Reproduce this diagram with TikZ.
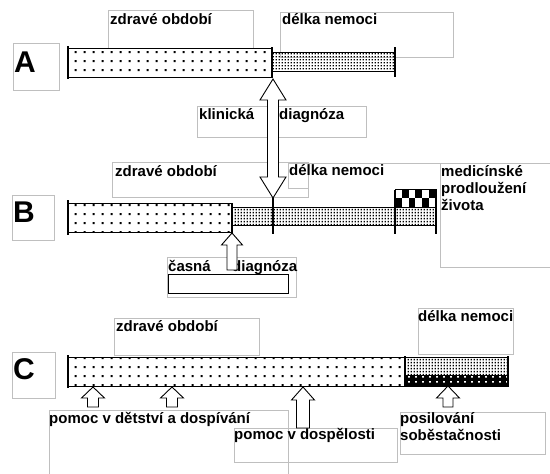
\documentclass[tikz,border=0pt]{standalone}
\usepackage{fontspec}
\setmainfont{Liberation Sans}
\usetikzlibrary{patterns.meta}
% sparse dots for the healthy period, dense dots for the illness
\tikzdeclarepattern{name=sparsedots,type=uncolored,
  bounding box={(0pt,0pt) and (9pt,8.5pt)},tile size={(9pt,8.5pt)},
  code={\fill (3pt,3pt) rectangle (5pt,5pt);}}
\tikzdeclarepattern{name=densedots,type=uncolored,
  bounding box={(0pt,0pt) and (3.4pt,3.4pt)},tile size={(3.4pt,3.4pt)},
  code={\fill (0.7pt,0.7pt) rectangle (2.3pt,2.3pt);}}
\tikzdeclarepattern{name=whitedots,type=uncolored,
  bounding box={(0pt,0pt) and (7pt,5pt)},tile size={(7pt,5pt)},
  code={\fill (2.5pt,1.5pt) rectangle (4.3pt,3.3pt);}}
\tikzset{
  frame/.style={draw=gray!50,line width=0.8pt},
  lbl/.style={font=\bfseries\fontsize{15}{17}\selectfont,inner sep=0pt,anchor=base west},
  letter/.style={font=\bfseries\fontsize{30}{30}\selectfont,inner sep=0pt,anchor=base west},
  healthy/.style={draw=black,line width=0.9pt,pattern=sparsedots},
  ill/.style={draw=black,line width=0.9pt,pattern=densedots},
  endline/.style={line width=2.6pt},
  blockarrow/.style={draw=black,fill=white,line width=0.9pt,line join=miter}
}
% hollow arrow pointing up: tip x, tip y, half head, head length, half shaft, tail y
\newcommand\hollowup[6]{%
  \draw[blockarrow] (#1,#2) -- (#1+#3,#2+#4) -- (#1+#5,#2+#4) -- (#1+#5,#6)
    -- (#1-#5,#6) -- (#1-#5,#2+#4) -- (#1-#3,#2+#4) -- cycle;}

\begin{document}
\begin{tikzpicture}[x=1pt,y=-1pt]
  \useasboundingbox[fill=white] (0,0) rectangle (550,474);

  % gray text frames
  \draw[frame] (13,43) rectangle (59,90);
  \draw[frame] (12,195) rectangle (54,240);
  \draw[frame] (12,352) rectangle (55,398);
  \draw[frame] (108,10) rectangle (253,48);
  \draw[frame] (280,12) rectangle (453,57);
  \draw[frame] (197,106) rectangle (366,137);
  \draw[frame] (112,162) rectangle (308,197);
  \draw[frame] (308,188) -- (288,188) -- (288,163) -- (440,163);
  \draw[frame] (551,163) -- (440,163) -- (440,267) -- (551,267);
  \draw[frame] (167,257) rectangle (296,297);
  \draw[line width=0.9pt] (168,274) rectangle (288,293);
  \draw[frame] (114,318) rectangle (259,355);
  \draw[frame] (418,308) rectangle (513,354);
  \draw[frame] (49,476) -- (49,410) -- (288,410) -- (288,476);
  \draw[frame] (234,428) rectangle (397,462);
  \draw[frame] (400,412) rectangle (545,454);

  % row A
  \node[letter] (rowA) at (14,72) {A};
  \draw[healthy] (68,48) rectangle (272,77);
  \draw[ill] (272,52) rectangle (395,71);
  \draw[endline] (68,46) -- (68,79);
  \draw[endline] (272,47) -- (272,78);
  \draw[endline] (395,47) -- (395,77);
  \node[lbl] (healthyA) at (110,24) {zdravé období};
  \node[lbl] (illA) at (282,24) {délka nemoci};
  \node[lbl] (clinic) at (199,119) {klinická};
  \node[lbl] (clinicdiag) at (279,119) {diagnóza};

  % row B
  \node[letter] (rowB) at (13,222) {B};
  \draw[healthy] (68,203) rectangle (232,232);
  \draw[ill] (232,207) rectangle (436,225);
  \draw[endline] (68,200) -- (68,235);
  \draw[line width=1.6pt] (232,203) -- (232,233);
  \draw[endline] (273,197) -- (273,234);
  \draw[endline] (395,190) -- (395,234);
  \draw[endline] (436,190) -- (436,234);
  \draw[line width=0.9pt] (395,189) rectangle (436,207);
  \foreach \c/\r in {0/1,1/0,2/1,3/0,4/1,5/0}
    \fill (395+\c*6.83,189+\r*9) rectangle ++(6.83,9);
  \node[lbl] (healthyB) at (115,176) {zdravé období};
  \node[lbl] (illB) at (289,175) {délka nemoci};
  \node[lbl] (medA) at (441,176) {medicínské};
  \node[lbl] (medB) at (441,193) {prodloužení};
  \node[lbl] (medC) at (441,210) {života};
  \node[lbl] (early) at (168,271) {časná};
  \node[lbl] (earlydiag) at (232,271) {diagnóza};

  % row C
  \node[letter] (rowC) at (13,379) {C};
  \draw[healthy] (68,357) rectangle (405,386);
  \draw[ill] (405,357) rectangle (508,375);
  \fill[black] (405,375) rectangle (508,386);
  \fill[pattern=whitedots,pattern color=white] (405,375) rectangle (508,386);
  \draw[line width=0.9pt] (405,357) rectangle (508,386);
  \draw[endline] (68,355) -- (68,388);
  \draw[endline] (405,356) -- (405,387);
  \draw[endline] (508,356) -- (508,387);
  \node[lbl] (healthyC) at (116,331) {zdravé období};
  \node[lbl] (illC) at (418,321) {délka nemoci};
  \node[lbl] (child) at (49,423) {pomoc v dětství a dospívání};
  \node[lbl] (adult) at (234,439) {pomoc v dospělosti};
  \node[lbl] (selfA) at (400,423) {posilování};
  \node[lbl] (selfB) at (400,440) {soběstačnosti};

  % hollow arrows
  \draw[blockarrow] (273,79) -- (286,100) -- (278.5,100) -- (278.5,177) -- (286,177)
    -- (273,198) -- (260,177) -- (267.5,177) -- (267.5,100) -- (260,100) -- cycle;
  \hollowup{232}{233}{10.5}{12}{5}{270}
  \hollowup{93}{387}{11.5}{11}{5.5}{407}
  \hollowup{172}{387}{11.5}{11}{5.5}{407}
  \hollowup{303}{387}{11.5}{13}{6.5}{428}
  \hollowup{448}{386}{11.5}{12}{5}{407}
\end{tikzpicture}
\end{document}
